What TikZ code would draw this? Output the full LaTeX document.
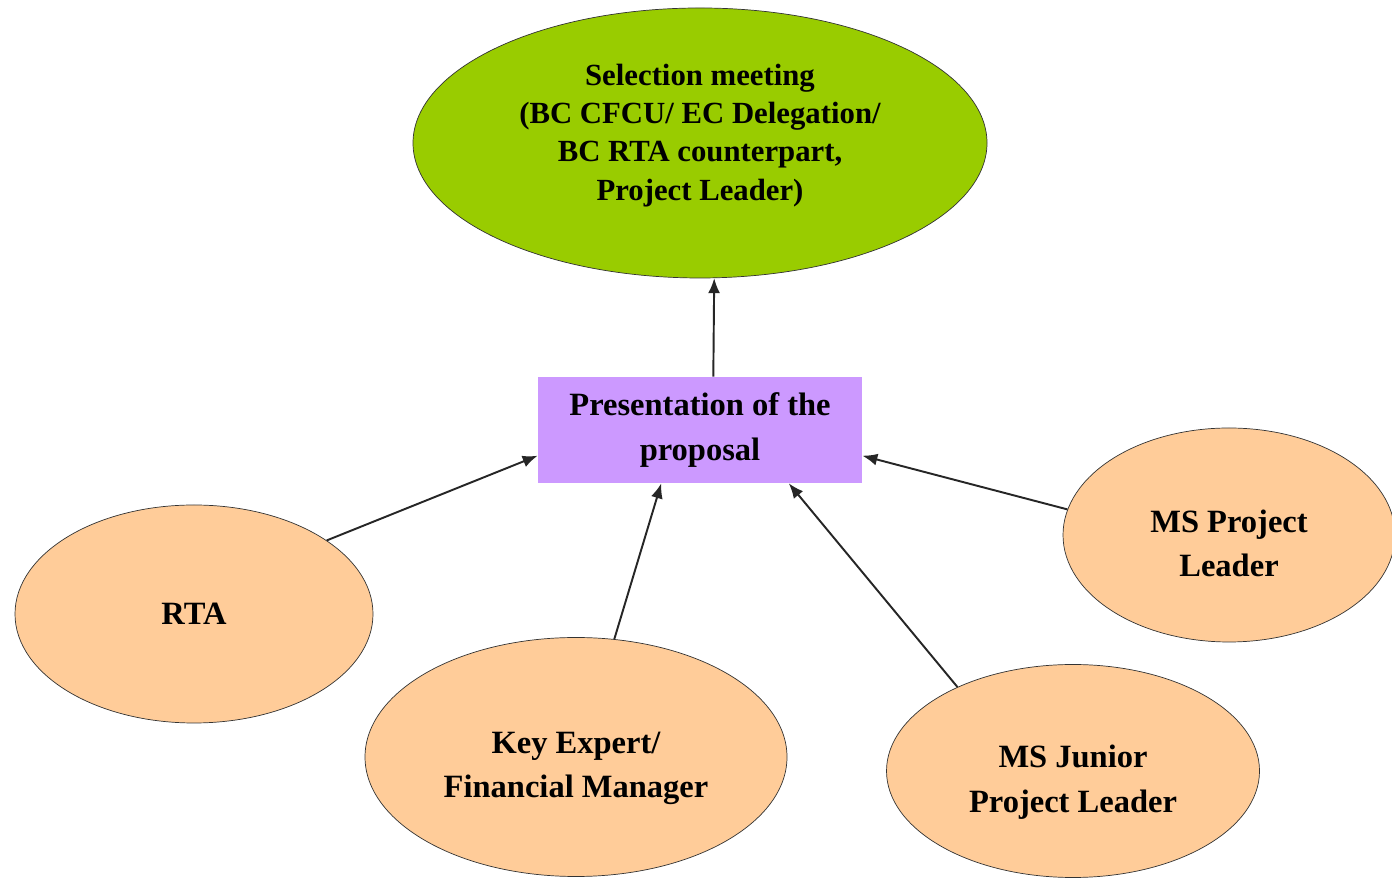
\documentclass[tikz,border=0pt]{standalone}
\usepackage{fontspec}
\setmainfont{Liberation Serif}
\usetikzlibrary{shapes.geometric,arrows.meta}
\definecolor{selgreen}{HTML}{99CC00}
\definecolor{prespurple}{HTML}{CC99FF}
\definecolor{memberorange}{HTML}{FFCC99}
\begin{document}
\begin{tikzpicture}[
    member/.style={ellipse, draw=black!80, fill=memberorange, inner sep=0pt, align=center,
      font=\bfseries\fontsize{18.5}{25.5}\selectfont},
    arr/.style={-{Latex[length=3mm,width=2.4mm]}, line width=1.1pt, black!85}]
    \useasboundingbox (0,0) rectangle (27.84,17.62);

    \node (sel) [ellipse, draw=black!80, fill=selgreen, inner sep=0pt, align=center,
      minimum width=11.48cm, minimum height=5.4cm, text depth=0.44cm,
      font=\bfseries\fontsize{17.5}{21.8}\selectfont] at (14.0,14.76)
      {Selection meeting\\(BC CFCU/ EC Delegation/\\BC RTA counterpart,\\Project Leader)};
    \node (pres) [rectangle, fill=prespurple, inner sep=0pt, align=center,
      minimum width=6.48cm, minimum height=2.12cm,
      font=\bfseries\fontsize{18.5}{26}\selectfont] at (14.0,9.02)
      {Presentation of the\\proposal};
    \node (rta) [member, minimum width=7.16cm, minimum height=4.36cm] at (3.88,5.34) {RTA};
    \node (key) [member, minimum width=8.44cm, minimum height=4.78cm, text height=1.78cm] at (11.52,2.48)
      {Key Expert/\\Financial Manager};
    \node (jun) [member, minimum width=7.46cm, minimum height=4.26cm, text height=1.78cm] at (21.46,2.2)
      {MS Junior\\Project Leader};
    \node (mspl) [member, minimum width=6.64cm, minimum height=4.28cm, text height=1.68cm] at (24.58,6.92)
      {MS Project\\Leader};

    \draw[arr] (pres.76) -- (sel.276);
    \draw[arr] (rta.29) -- (pres.189);
    \draw[arr] (key.72) -- (pres.234);
    \draw[arr] (jun.144) -- (pres.329);
    \draw[arr] (mspl.171) -- (pres.351);
  \end{tikzpicture}
\end{document}
